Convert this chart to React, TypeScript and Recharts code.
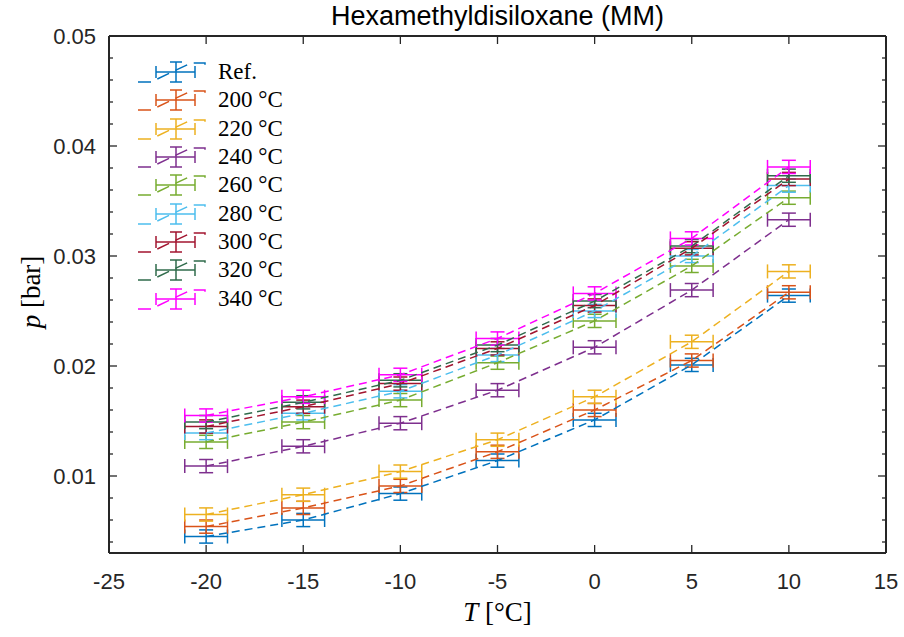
import React from 'react';
import { ScatterChart, Scatter, XAxis, YAxis, ErrorBar } from 'recharts';

// measurement temperatures [°C]
const temps = [-20, -15, -10, -5, 0, 5, 10];

// vapour pressure [bar] per heating temperature
const pRef = [0.0045, 0.006, 0.0084, 0.0114, 0.0151, 0.0201, 0.0264];
const p200 = [0.0054, 0.0071, 0.0091, 0.0122, 0.016, 0.0205, 0.0267];
const p220 = [0.0065, 0.0083, 0.0104, 0.0133, 0.0172, 0.0222, 0.0286];
const p240 = [0.0109, 0.0127, 0.0148, 0.0178, 0.0217, 0.0269, 0.0333];
const p260 = [0.0131, 0.0149, 0.0169, 0.0203, 0.0241, 0.0291, 0.0353];
const p280 = [0.0139, 0.0157, 0.0177, 0.021, 0.025, 0.03, 0.0364];
const p300 = [0.0145, 0.0163, 0.0184, 0.0216, 0.0255, 0.0307, 0.037];
const p320 = [0.0149, 0.0167, 0.0187, 0.0219, 0.0259, 0.0309, 0.0373];
const p340 = [0.0155, 0.0172, 0.0192, 0.0225, 0.0266, 0.0316, 0.0381];

const seriesNames = ['Ref.', '200 °C', '220 °C', '240 °C', '260 °C', '280 °C', '300 °C', '320 °C', '340 °C'];
const seriesColors = ['#0072BD', '#D95319', '#EDB120', '#7E2F8E', '#77AC30', '#4DBEEE', '#A2142F', '#2F6B4B', '#FF00FF'];
const seriesValues = [pRef, p200, p220, p240, p260, p280, p300, p320, p340];

const errT = 1.1;
const errP = 0.0006;

const xTicks = [-25, -20, -15, -10, -5, 0, 5, 10, 15];
const yMajorTicks = [0.01, 0.02, 0.03, 0.04, 0.05];
const yMinorTicks = [0.004, 0.006, 0.008, 0.012, 0.014, 0.016, 0.018, 0.022, 0.024, 0.026, 0.028,
  0.032, 0.034, 0.036, 0.038, 0.042, 0.044, 0.046, 0.048];
const yTicks = [...yMinorTicks, ...yMajorTicks].sort((a, b) => a - b);

const axisColor = '#262626';
const sans = '"Liberation Sans", Arial, sans-serif';
const serif = '"Liberation Serif", "DejaVu Serif", serif';

const BottomTick = (props: any) => {
  const { x, y, payload } = props;
  return (
    <g>
      <line x1={x} y1={y} x2={x} y2={y - 8} stroke={axisColor} strokeWidth={1.3} />
      <text x={x} y={y + 36} textAnchor="middle" fontFamily={sans} fontSize={22} fill={axisColor}>
        {payload.value}
      </text>
    </g>
  );
};

const TopTick = (props: any) => {
  const { x, y } = props;
  return <line x1={x} y1={y} x2={x} y2={y + 8} stroke={axisColor} strokeWidth={1.3} />;
};

const LeftTick = (props: any) => {
  const { x, y, payload } = props;
  const major = yMajorTicks.includes(payload.value);
  return (
    <g>
      <line x1={x} y1={y} x2={x + (major ? 8 : 4)} y2={y} stroke={axisColor} strokeWidth={1.3} />
      {major && (
        <text x={x - 13} y={y + 8} textAnchor="end" fontFamily={sans} fontSize={22} fill={axisColor}>
          {String(payload.value)}
        </text>
      )}
    </g>
  );
};

const RightTick = (props: any) => {
  const { x, y, payload } = props;
  const major = yMajorTicks.includes(payload.value);
  return <line x1={x} y1={y} x2={x - (major ? 8 : 4)} y2={y} stroke={axisColor} strokeWidth={1.3} />;
};

const LegendIcon = ({ color }: { color: string }) => (
  <svg width={70} height={22} style={{ display: 'block', overflow: 'visible' }}>
    <path d="M1,21 L14,21 L54,2 L68,2 L68,6" fill="none" stroke={color} strokeWidth={1.5} strokeDasharray="13 7" />
    <line x1={19} y1={11} x2={58} y2={11} stroke={color} strokeWidth={1.5} />
    <line x1={19} y1={5} x2={19} y2={17} stroke={color} strokeWidth={1.5} />
    <line x1={58} y1={5} x2={58} y2={17} stroke={color} strokeWidth={1.5} />
    <line x1={39} y1={1} x2={39} y2={21} stroke={color} strokeWidth={1.5} />
    <line x1={33} y1={1} x2={45} y2={1} stroke={color} strokeWidth={1.5} />
    <line x1={33} y1={21} x2={45} y2={21} stroke={color} strokeWidth={1.5} />
  </svg>
);

export default function App() {
  return (
    <div style={{ position: 'absolute', left: 0, top: 0, width: 904, height: 637, background: '#fff' }}>
      <div
        style={{
          position: 'absolute', left: 0, width: 995, top: 1, textAlign: 'center',
          fontFamily: sans, fontSize: 27, color: '#000',
        }}
      >
        Hexamethyldisiloxane (MM)
      </div>
      <ScatterChart width={904} height={637} margin={{ top: 35, right: 17, bottom: 83, left: 108 }}>
        <XAxis
          xAxisId="b" type="number" dataKey="T" domain={[-25, 15]} ticks={xTicks} interval={0}
          height={1} tickSize={0} tickMargin={0} tickLine={false} tick={<BottomTick />}
          axisLine={{ stroke: axisColor, strokeWidth: 2 }} allowDataOverflow
        />
        <XAxis
          xAxisId="t" orientation="top" type="number" dataKey="T" domain={[-25, 15]} ticks={xTicks} interval={0}
          height={1} tickSize={0} tickMargin={0} tickLine={false} tick={<TopTick />}
          axisLine={{ stroke: axisColor, strokeWidth: 2 }} allowDataOverflow
        />
        <YAxis
          yAxisId="l" type="number" dataKey="p" domain={[0.003, 0.05]} ticks={yTicks} interval={0}
          width={1} tickSize={0} tickMargin={0} tickLine={false} tick={<LeftTick />}
          axisLine={{ stroke: axisColor, strokeWidth: 2 }} allowDataOverflow
        />
        <YAxis
          yAxisId="r" orientation="right" type="number" dataKey="p" domain={[0.003, 0.05]} ticks={yTicks} interval={0}
          width={1} tickSize={0} tickMargin={0} tickLine={false} tick={<RightTick />}
          axisLine={{ stroke: axisColor, strokeWidth: 2 }} allowDataOverflow
        />
        {seriesValues.map((vals, i) => (
          <Scatter
            key={seriesNames[i]}
            name={seriesNames[i]}
            xAxisId="b"
            yAxisId="l"
            data={temps.map((t, j) => ({ T: t, p: vals[j], eT: errT, eP: errP }))}
            fill={seriesColors[i]}
            line={{ stroke: seriesColors[i], strokeWidth: 1.5, strokeDasharray: '8 5' }}
            lineType="joint"
            shape={() => <g />}
            isAnimationActive={false}
          >
            <ErrorBar dataKey="eT" direction="x" width={7} stroke={seriesColors[i]} strokeWidth={1.5} isAnimationActive={false} />
            <ErrorBar dataKey="eP" direction="y" width={7} stroke={seriesColors[i]} strokeWidth={1.5} isAnimationActive={false} />
          </Scatter>
        ))}
        {/* keeps the top/right frame axes tied to the same scale */}
        <Scatter xAxisId="t" yAxisId="r" data={[]} shape={() => <g />} legendType="none" isAnimationActive={false} />
      </ScatterChart>
      <div style={{ position: 'absolute', left: 137, top: 58 }}>
        {seriesNames.map((name, i) => (
          <div key={name} style={{ display: 'flex', alignItems: 'center', height: 28.3 }}>
            <LegendIcon color={seriesColors[i]} />
            <span style={{ marginLeft: 11, fontFamily: serif, fontSize: 23, color: '#000', whiteSpace: 'nowrap' }}>
              {name}
            </span>
          </div>
        ))}
      </div>
      <div
        style={{
          position: 'absolute', left: 0, width: 995, top: 597, textAlign: 'center',
          fontFamily: serif, fontSize: 27, color: '#000',
        }}
      >
        <i>T</i> [°C]
      </div>
      <div
        style={{
          position: 'absolute', left: 31, top: 292, transform: 'translate(-50%, -50%) rotate(-90deg)',
          fontFamily: serif, fontSize: 27, color: '#000', whiteSpace: 'nowrap',
        }}
      >
        <i>p</i> [bar]
      </div>
    </div>
  );
}
